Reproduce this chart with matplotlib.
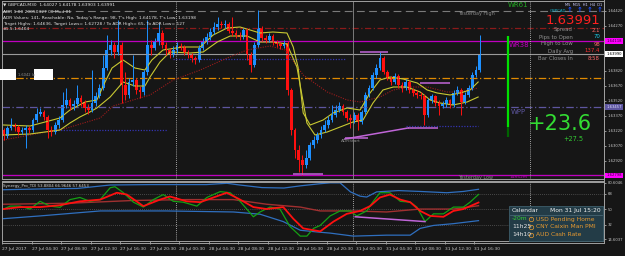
import numpy as np
import matplotlib
matplotlib.use("Agg")
from matplotlib import pyplot as plt
from matplotlib.lines import Line2D
from matplotlib.patches import Rectangle
from matplotlib.transforms import blended_transform_factory

W, H = 625, 256

# ---- candles (GBPCAD M30), open of each bar = previous close ----
first_open = 1.6323
closes = [1.6317, 1.6325, 1.6328, 1.6326, 1.6321, 1.6323, 1.6325, 1.6323, 1.6333, 1.6339,
          1.6341, 1.6336, 1.6323, 1.6321, 1.6328, 1.6333, 1.6348, 1.6353, 1.6347, 1.6349,
          1.6355, 1.6351, 1.6345, 1.6343, 1.6350, 1.6357, 1.6365, 1.6385, 1.6403, 1.6408,
          1.6401, 1.6408, 1.6368, 1.6358, 1.6371, 1.6373, 1.6363, 1.6361, 1.6381, 1.6408,
          1.6405, 1.6411, 1.6420, 1.6408, 1.6403, 1.6398, 1.6403, 1.6407, 1.6406, 1.6401,
          1.6398, 1.6395, 1.6393, 1.6405, 1.6411, 1.6416, 1.6421, 1.6426, 1.6429, 1.6428,
          1.6429, 1.6422, 1.6420, 1.6418, 1.6416, 1.6423, 1.6398, 1.6388, 1.6408, 1.6425,
          1.6415, 1.6413, 1.6417, 1.6411, 1.6409, 1.6407, 1.6410, 1.6363, 1.6323, 1.6303,
          1.6293, 1.6288, 1.6295, 1.6308, 1.6313, 1.6318, 1.6323, 1.6328, 1.6333, 1.6338,
          1.6343, 1.6347, 1.6341, 1.6335, 1.6333, 1.6338, 1.6331, 1.6341, 1.6358, 1.6365,
          1.6378, 1.6385, 1.6395, 1.6381, 1.6375, 1.6371, 1.6377, 1.6368, 1.6365, 1.6371,
          1.6363, 1.6360, 1.6358, 1.6357, 1.6338, 1.6353, 1.6357, 1.6350, 1.6347, 1.6349,
          1.6353, 1.6348, 1.6360, 1.6363, 1.6351, 1.6358, 1.6365, 1.6378, 1.6383, 1.63991]
highs = [1.6325, 1.6327, 1.6335, 1.6330, 1.6328, 1.6326, 1.6328, 1.6327, 1.6335, 1.6345,
         1.6345, 1.6343, 1.6338, 1.6327, 1.6331, 1.6337, 1.6361, 1.6365, 1.6355, 1.6353,
         1.6368, 1.6358, 1.6353, 1.6349, 1.6383, 1.6361, 1.6369, 1.6398, 1.6418, 1.6413,
         1.6411, 1.6433, 1.6411, 1.6381, 1.6375, 1.6398, 1.6375, 1.6367, 1.6383, 1.6433,
         1.6413, 1.6415, 1.6430, 1.6423, 1.6411, 1.6405, 1.6407, 1.6411, 1.6410, 1.6408,
         1.6403, 1.6400, 1.6397, 1.6408, 1.6415, 1.6420, 1.6425, 1.6431, 1.6436, 1.6432,
         1.6433, 1.6431, 1.6436, 1.6423, 1.6421, 1.6425, 1.6425, 1.6401, 1.6411, 1.6443,
         1.6427, 1.6418, 1.6420, 1.6419, 1.6413, 1.6411, 1.6413, 1.6412, 1.6365, 1.6325,
         1.6308, 1.6298, 1.6303, 1.6311, 1.6317, 1.6321, 1.6327, 1.6333, 1.6337, 1.6348,
         1.6348, 1.6351, 1.6349, 1.6343, 1.6339, 1.6341, 1.6340, 1.6343, 1.6361, 1.6368,
         1.6381, 1.6389, 1.6401, 1.6397, 1.6383, 1.6377, 1.6380, 1.6379, 1.6371, 1.6374,
         1.6373, 1.6365, 1.6363, 1.6361, 1.6359, 1.6355, 1.6359, 1.6358, 1.6353, 1.6352,
         1.6356, 1.6354, 1.6363, 1.6367, 1.6365, 1.6361, 1.6368, 1.6381, 1.6387, 1.6418]
lows = [1.6313, 1.6315, 1.6323, 1.6322, 1.6318, 1.6319, 1.6305, 1.6320, 1.6321, 1.6331,
        1.6337, 1.6333, 1.6315, 1.6317, 1.6319, 1.6325, 1.6331, 1.6345, 1.6343, 1.6343,
        1.6347, 1.6347, 1.6341, 1.6339, 1.6341, 1.6347, 1.6355, 1.6363, 1.6383, 1.6398,
        1.6395, 1.6398, 1.6350, 1.6353, 1.6355, 1.6367, 1.6359, 1.6355, 1.6358, 1.6378,
        1.6398, 1.6403, 1.6408, 1.6405, 1.6398, 1.6395, 1.6396, 1.6400, 1.6403, 1.6398,
        1.6395, 1.6391, 1.6389, 1.6391, 1.6403, 1.6409, 1.6413, 1.6419, 1.6423, 1.6425,
        1.6425, 1.6420, 1.6417, 1.6415, 1.6413, 1.6414, 1.6393, 1.6381, 1.6386, 1.6406,
        1.6412, 1.6410, 1.6411, 1.6408, 1.6406, 1.6404, 1.6405, 1.6358, 1.6318, 1.6295,
        1.6281, 1.6278, 1.6285, 1.6293, 1.6305, 1.6310, 1.6315, 1.6321, 1.6325, 1.6331,
        1.6336, 1.6341, 1.6338, 1.6332, 1.6325, 1.6330, 1.6323, 1.6329, 1.6339, 1.6356,
        1.6363, 1.6375, 1.6383, 1.6379, 1.6373, 1.6368, 1.6369, 1.6365, 1.6361, 1.6363,
        1.6360, 1.6357, 1.6355, 1.6354, 1.6328, 1.6336, 1.6350, 1.6347, 1.6338, 1.6345,
        1.6346, 1.6345, 1.6346, 1.6358, 1.6338, 1.6349, 1.6356, 1.6363, 1.6376, 1.6381]

# ---- channel / slow MA on price chart (bar index, price) ----
upper_ma_x = [0, 7.2, 15.3, 18, 22.1, 25.3, 27.5, 29.4, 32.4, 35.6, 38.3, 40.2, 43.2, 48.6,
              53.3, 56.8, 60.6, 64.1, 66.8, 69.5, 73, 76.8, 78.5, 79.8, 81.2, 83.1, 86.6,
              89.3, 93.1, 96.6, 99.3, 102, 104.7, 108.3, 112.1, 114.8, 117.5, 121, 123.7,
              126.4, 128.6]
upper_ma = [1.6328, 1.6327, 1.6335, 1.6343, 1.6351, 1.6353, 1.6371, 1.6385, 1.6393, 1.6385,
            1.6383, 1.6393, 1.6403, 1.6406, 1.6406, 1.6418, 1.6425, 1.6426, 1.6423, 1.6420,
            1.6421, 1.6420, 1.6406, 1.6386, 1.6340, 1.6328, 1.6333, 1.6340, 1.6345, 1.6343,
            1.6360, 1.6373, 1.6376, 1.6374, 1.6370, 1.6363, 1.6360, 1.6358, 1.6360, 1.6363,
            1.6371]
lower_ma_x = [0, 7.2, 15.3, 18, 20.7, 23.4, 25.3, 28.9, 32.4, 35.6, 38.3, 39.7, 42.4, 45.1,
              50.5, 54.1, 57.9, 61.4, 66, 69.5, 73, 76.8, 79.5, 82.2, 84.4, 87.7, 91.2, 94.7,
              97.4, 100.1, 102.8, 105.6, 109.3, 112.9, 115.6, 118.3, 121.8, 125.6, 128.6]
lower_ma = [1.6318, 1.6319, 1.6323, 1.6330, 1.6336, 1.6341, 1.6345, 1.6356, 1.6371, 1.6367,
            1.6367, 1.6376, 1.6391, 1.6401, 1.6400, 1.6401, 1.6411, 1.6417, 1.6417, 1.6411,
            1.6411, 1.6409, 1.6386, 1.6330, 1.6318, 1.6321, 1.6326, 1.6331, 1.6333, 1.6350,
            1.6363, 1.6366, 1.6366, 1.6361, 1.6353, 1.6350, 1.6348, 1.6351, 1.6356]
slow_ma_x = [0, 17.2, 26.2, 29.7, 35.1, 39.7, 46, 53.3, 60.6, 66, 72.2, 76.3, 81.2, 87.7,
             93.1, 96.6, 102, 105.6, 110.2, 114.8, 120.2, 123.7, 128.6]
slow_ma = [1.6313, 1.6325, 1.6335, 1.6347, 1.6353, 1.6358, 1.6373, 1.6383, 1.6395, 1.6403,
           1.6407, 1.6403, 1.6378, 1.6361, 1.6353, 1.6351, 1.6356, 1.6363, 1.6366, 1.6366,
           1.6361, 1.6361, 1.6365]

# ---- levels ----
yesterday_high = 1.6442
red_level = 1.6425
wr38 = 1.64118
bid = 1.63991
orange_level = 1.6375
wpp = 1.63457
yesterday_low = 1.6278
magenta_low = 1.62775
price_ticks = [1.64420, 1.64270, 1.63820, 1.63670, 1.63520, 1.63370, 1.63220, 1.63070, 1.62920]

# magenta pattern marks: (x0, x1, price)
marks = [(96.6, 104.2, 1.6401), (112.9, 121.0, 1.6370), (109.6, 117.7, 1.6325),
         (92.5, 98.8, 1.6315), (78.5, 86.6, 1.6279)]
navy_marks = [(46.0, 92.6, 1.6394), (14.0, 44.3, 1.6323), (109.0, 128.6, 1.6327)]

# ---- TDI sub window ----
rsi_x = [0, 1.8, 4.5, 7.2, 9.9, 12.6, 15.3, 18, 20.7, 23.4, 26.2, 28.9, 30.2, 32.5, 35.2,
         37.9, 40.6, 43.3, 46, 48.7, 52.4, 55.1, 58.7, 61.4, 64.1, 65.9, 67.7, 69.5, 72.2,
         74.9, 77.6, 80.4, 82.2, 84, 85.8, 88.5, 91.2, 93.9, 95.7, 98.4, 100.2, 102, 104.7,
         107.5, 110.2, 112, 114.2, 116.5, 119.2, 121.9, 124.6, 126.4, 128.7]
rsi = [50, 53.4, 53.4, 50, 59, 53.4, 52, 61, 63.5, 59, 61, 74.8, 76, 69, 58, 52.3, 61, 66.9,
       59, 58, 53.4, 63.5, 70.3, 69, 59, 50, 41, 46.6, 52.3, 50, 29.8, 18.5, 18.5, 27.5, 30.9,
       42, 47.8, 47.8, 42, 47.8, 59, 69, 69, 59, 58, 52.3, 35.4, 44.4, 44.4, 52.3, 52.3, 58, 67]
signal_x = [0, 4.5, 9.9, 15.3, 20.7, 26.2, 30.7, 33.4, 37.9, 42.4, 45.1, 49.6, 53.3, 56.9,
            60.5, 64.1, 67.7, 71.3, 75.8, 78.5, 81.2, 85.8, 89.4, 93, 96.6, 99.3, 102, 104.7,
            107.5, 110.2, 112.9, 115.6, 119.2, 121.9, 124.6, 128.7]
signal = [50, 52.3, 52.3, 54.5, 59, 61, 69, 66.9, 53.4, 61, 64.6, 59, 58, 63.5, 69, 61, 52.3,
          50, 52.3, 38.8, 27.5, 24, 35.4, 44.4, 47.8, 53.4, 63.5, 66.9, 61, 58, 47.8, 42, 41,
          47.8, 50, 57.6]
base_x = [0, 18, 35.2, 49.6, 62.3, 71.3, 80.4, 85.8, 94.8, 103.8, 112.9, 121.9, 128.7]
base = [55.6, 56.8, 60, 61, 61, 55.6, 52.3, 47.8, 47.8, 46.6, 50, 50, 53.9]
band_up_x = [0, 11, 20, 28.9, 40, 55, 60.5, 64, 70, 76, 80.4, 85.8, 88.5, 91.2, 94, 96.6,
             98.4, 101.1, 107, 112.9, 120.1, 124.6, 128.7]
band_up = [72.5, 73.5, 74, 78, 78.5, 78.5, 80, 78, 75, 74.5, 77, 79.5, 80.5, 80.5, 70, 65, 64,
           70, 71.5, 70.5, 69, 70.5, 73]
band_lo_x = [0, 9.9, 26.2, 44, 62.3, 69.5, 75.8, 80.4, 85.8, 88.5, 94.8, 103.8, 110.2, 112.9,
             116.5, 121.9, 128.7]
band_lo = [38.8, 42, 47.8, 47.8, 46.6, 44, 35.4, 25.3, 23, 22, 18.5, 19.6, 19.6, 27.5, 30.9,
           33, 36.5]

date_bars = list(range(0, 129, 8))
date_labels = ["27 Jul 2017", "27 Jul 04:30", "27 Jul 08:30", "27 Jul 12:30", "27 Jul 16:30",
               "27 Jul 20:30", "28 Jul 00:30", "28 Jul 04:30", "28 Jul 08:30", "28 Jul 12:30",
               "28 Jul 16:30", "28 Jul 20:30", "31 Jul 00:30", "31 Jul 04:30", "31 Jul 08:30",
               "31 Jul 12:30", "31 Jul 16:30"]
separators = [46.6, 94.6, 142.6]

info_rows = [("Spread", "2.1", "#ff6a6a"), ("Pips to Open", "70", "#19d3f0"),
             ("High to Low", "98", "#ff6a6a"), ("Daily Avg", "137.4", "#ff3030"),
             ("Bar Closes In", "8:58", "#ff6a6a")]
calendar_rows = [("-20m", "#33cc33", "USD Pending Home"), ("11h25", "#e8e8e8", "CNY Caixin Man PMI"),
                 ("14h10", "#e8e8e8", "AUD Cash Rate")]

BG = "#161616"
BLUE = "#1e90ff"
RED = "#ff1010"
FRAME = "#a0a0a0"
TXT = "#c8c8c8"


def fx(x):
    return x / W


def fy(y):
    return 1 - y / H


fig = plt.figure(figsize=(W / 100, H / 100), dpi=100, facecolor=BG)
ax = fig.add_axes([fx(2), fy(179), fx(602), 178 / H], facecolor=BG)
ax2 = fig.add_axes([fx(2), fy(241), fx(602), 59 / H], facecolor=BG)

xmin, xmax = -0.41, 162.7
ax.set_xlim(xmin, xmax)
ax2.set_xlim(xmin, xmax)
ax.set_ylim(1.6274, 1.6452)
ax2.set_ylim(12.8, 81.5)

for a in (ax, ax2):
    for s in a.spines.values():
        s.set_color(FRAME)
        s.set_linewidth(0.7)

# ---- price panel ----
ax.axhline(yesterday_high, color="#7a7a7a", lw=0.8, ls=(0, (7, 4)))
ax.axhline(red_level, color="#8b1a1a", lw=0.9, ls=(0, (5, 2, 1, 2)))
ax.axhline(wr38, color="#c000c0", lw=0.9)
ax.axhline(bid, color="#9a9a9a", lw=0.8)
ax.axhline(orange_level, color="#e08a00", lw=0.9, ls=(0, (6, 2, 1, 2)))
ax.axhline(wpp, color="#5e56a0", lw=0.9, ls=(0, (6, 2, 1, 2)))
ax.axhline(yesterday_low, color="#808080", lw=0.8)
ax.axhline(magenta_low, color="#c000c0", lw=0.9)
for x0, x1, p in navy_marks:
    ax.hlines(p, x0, x1, color="#3434b0", lw=0.9, ls=(0, (1, 1.2)))

ax.axvline(separators[0], color="#d0d0d0", lw=0.6, ls=(0, (1, 1.5)))
ax.axvline(separators[1], color="#8a8a8a", lw=0.6)
ax.axvline(separators[2], color="#d0d0d0", lw=0.6, ls=(0, (1, 1.5)))

ax.plot(slow_ma_x, slow_ma, color="#9b1c1c", lw=0.8, ls=(0, (1, 1.2)))
ax.plot(upper_ma_x, upper_ma, color="#c8c832", lw=0.8)
ax.plot(lower_ma_x, lower_ma, color="#c8c832", lw=0.8)

closes = np.array(closes)
opens = np.r_[first_open, closes[:-1]]
idx = np.arange(len(closes))
hi = np.maximum(np.array(highs), np.maximum(opens, closes))
lo = np.minimum(np.array(lows), np.minimum(opens, closes))
colors = np.where(closes >= opens, BLUE, RED)
ax.vlines(idx, lo, hi, colors=colors, lw=0.7)
body = np.maximum(np.abs(closes - opens), 0.00004)
ax.bar(idx, body, bottom=np.minimum(opens, closes), width=0.75, color=colors, linewidth=0)

for x0, x1, p in marks:
    ax.hlines(p, x0, x1, color="#c065d8", lw=1.1)
ax.plot([92.5, 109.6], [1.6314, 1.6325], color="#c065d8", lw=1.1)

ax.vlines(136.8, 1.6326, 1.6417, color="#00e000", lw=1.6)
ax.vlines(136.8, 1.6316, 1.6326, color="#006400", lw=1.6)

ax.set_xticks([])
ax.yaxis.tick_right()
ax.set_yticks(price_ticks)
ax.set_yticklabels([f"{p:.5f}" for p in price_ticks])
ax.tick_params(axis="y", labelsize=2.7, colors=TXT, length=1.5, width=0.5, pad=1)

tr = blended_transform_factory(ax.transAxes, ax.transData)
for p, txt, fc, tc in [(wr38, "1.64118", "#ff00ff", "#3a003a"), (bid, "1.63990", "#ffffff", "#000000"),
                       (wpp, "1.63457", "#5e56a0", "#e0e0ff"), (magenta_low, "1.62798", "#ff00ff", "#3a003a")]:
    ax.text(1.004, p, txt, transform=tr, fontsize=2.7, color=tc, va="center", ha="left",
            bbox=dict(boxstyle="square,pad=0.25", fc=fc, ec="none"))

# ---- TDI panel ----
for lvl in (68, 50, 32):
    ax2.axhline(lvl, color="#5a5a5a", lw=0.6, ls=(0, (1, 1.5)))
for s in separators:
    ax2.axvline(s, color="#d0d0d0", lw=0.6, ls=(0, (1, 1.5)))
ax2.plot(band_up_x, band_up, color="#2f6fbf", lw=0.9)
ax2.plot(band_lo_x, band_lo, color="#2f6fbf", lw=0.9)
ax2.plot(base_x, base, color="#a03030", lw=1.0)
ax2.plot(rsi_x, rsi, color="#14a014", lw=0.9)
ax2.plot(signal_x, signal, color="#ff1010", lw=1.3)
ax2.plot([95.3, 114.2], [41, 35.4], color="#c065d8", lw=1.1)

ax2.yaxis.tick_right()
ax2.set_yticks([80.6046, 68, 50, 32, 14.6037])
ax2.set_yticklabels(["80.6046", "68", "50", "32", "14.6037"])
ax2.tick_params(axis="y", labelsize=2.7, colors=TXT, length=1.5, width=0.5, pad=1)
ax2.set_xticks([b - 0.4 for b in date_bars])
ax2.set_xticklabels(date_labels, ha="left")
ax2.tick_params(axis="x", labelsize=3.2, colors=TXT, length=2, width=0.5, pad=2)

# frame extras
for y in (181, 243):
    fig.add_artist(Line2D([fx(2), fx(604)], [fy(y), fy(y)], color=FRAME, lw=0.7))
fig.add_artist(Line2D([fx(604), fx(604)], [fy(0), fy(243)], color=FRAME, lw=0.7))

# ---- texts: top-left ----
small = dict(fontsize=3.2, color="#e0e0e0", va="center", ha="left")
fig.text(fx(3), fy(5), "\u25bc GBPCAD,M30  1.64027 1.64178 1.63903 1.63991", **small)
fig.text(fx(3), fy(12), "ADR 1.00 20050327 00 Mod 01", **small)
fig.text(fx(3), fy(18), "ADR Values: 141, Reachable: No, Today's Range: 98, T's High: 1.64178, "
         "T's Low: 1.63198", **small)
fig.text(fx(3), fy(24), "Target Highs: 1.64636, Target Lows= 1.62728 / To ADR High= 65, "
         "To ADR Low= 127", **small)
fig.text(fx(3), fy(29.5), "#1.5:1.6404", **small)

fig.add_artist(Rectangle((fx(0), fy(80)), fx(16), 11 / H, transform=fig.transFigure,
                         fc="white", ec="none"))
fig.add_artist(Rectangle((fx(34), fy(80)), fx(19), 11 / H, transform=fig.transFigure,
                         fc="white", ec="none"))
fig.text(fx(17.5), fy(74.5), "1.6042 lo", fontsize=2.6, color="#909090", va="center", ha="left")

# ---- level labels ----
fig.text(fx(458), fy(14), "Yesterday High", fontsize=3.5, color="#8a8a8a", va="center")
fig.text(fx(458), fy(177), "Yesterday Low", fontsize=3.5, color="#8a8a8a", va="center")
fig.text(fx(510), fy(177), "14h52m", fontsize=3.2, color="#c000c0", va="center")
fig.text(fx(341), fy(141), "ADRStart", fontsize=3.2, color="#8a8a8a", va="center")
fig.text(fx(508), fy(5), "WR61", fontsize=5, color="#22aa22", va="center")
fig.text(fx(509), fy(45), "WR38", fontsize=5, color="#c000c0", va="center")
fig.text(fx(511), fy(112), "WPP", fontsize=5, color="#5e56a0", va="center")
fig.text(fx(560), fy(124), "+23.6", fontsize=15, color="#33dd33", va="center", ha="center")
fig.text(fx(573), fy(139), "+27.5", fontsize=4.7, color="#33cc33", va="center", ha="center")

# ---- info panel ----
fig.text(fx(584), fy(5), "M5  M15  H1  H4  D1", fontsize=2.6, color="#d0d0ff", va="center",
         ha="center")
fig.text(fx(558), fy(10.5), "GBPCAD", fontsize=2.8, color="#19b5d0", va="center", ha="center")
for xa in (570, 580, 590, 600):
    fig.text(fx(xa), fy(10.5), "\u2191", fontsize=5, color="#1e50ff", va="center", ha="center",
             fontweight="bold")
fig.text(fx(573), fy(20.5), "1.63991", fontsize=9.5, color="#ff2020", va="center", ha="center")
for k, (lab, val, col) in enumerate(info_rows):
    yy = 30 + k * 7
    fig.text(fx(573), fy(yy), lab, fontsize=3.9, color="#909090", va="center", ha="right")
    fig.text(fx(600), fy(yy), val, fontsize=3.9, color=col, va="center", ha="right")

# ---- TDI label + calendar ----
fig.text(fx(3), fy(186), "Synergy_Pro_TDI 53.8804 66.9646 57.6453", fontsize=2.9,
         color="#d0d0d0", va="center")
fig.add_artist(Rectangle((fx(509), fy(241)), fx(94), 35 / H, transform=fig.transFigure,
                         fc="#233c47", ec="#3e5e6c", lw=0.6))
fig.text(fx(512), fy(210.5), "Calendar", fontsize=4.3, color="#f0f0f0", va="center")
fig.text(fx(601), fy(210.5), "Mon 31 Jul 15:20", fontsize=4.3, color="#f0f0f0", va="center",
         ha="right")
fig.add_artist(Line2D([fx(510), fx(602)], [fy(214.5), fy(214.5)], color="#4e6e7c", lw=0.5))
for k, (t, tc, ev) in enumerate(calendar_rows):
    yy = 219 + k * 8
    fig.text(fx(512), fy(yy), t, fontsize=4.3, color=tc, va="center")
    fig.add_artist(Line2D([fx(531)], [fy(yy)], marker="o", ms=3.2, mfc="none", mec="#e89a30",
                          mew=0.5))
    fig.text(fx(531), fy(yy), "!", fontsize=2.6, color="#e89a30", va="center", ha="center")
    fig.text(fx(536), fy(yy), ev, fontsize=4.3, color="#e89a30", va="center")

fig.savefig("out.png", dpi=100, facecolor=BG)
